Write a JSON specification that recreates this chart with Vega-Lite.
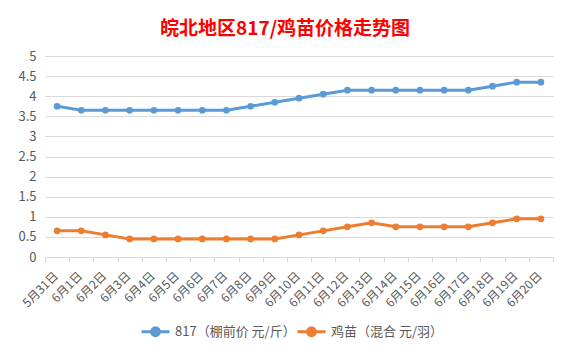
{
  "$schema": "https://vega.github.io/schema/vega-lite/v6.json",
  "autosize": {"type": "none"},
  "width": 508,
  "height": 201,
  "padding": {"left": 45, "top": 56, "right": 17, "bottom": 99},
  "background": "white",
  "title": {
    "text": "皖北地区817/鸡苗价格走势图",
    "color": "#ff0000",
    "fontSize": 19,
    "fontWeight": "bold",
    "font": "Noto Sans CJK SC",
    "anchor": "middle",
    "baseline": "bottom",
    "offset": 21,
    "dx": -14,
    "dy": 29
  },
  "config": {
    "view": {"stroke": null},
    "font": "Noto Sans CJK SC"
  },
  "data": {
    "values": [
      {"date": "5月31日", "series": "817（棚前价 元/斤）", "price": 3.75},
      {"date": "6月1日", "series": "817（棚前价 元/斤）", "price": 3.65},
      {"date": "6月2日", "series": "817（棚前价 元/斤）", "price": 3.65},
      {"date": "6月3日", "series": "817（棚前价 元/斤）", "price": 3.65},
      {"date": "6月4日", "series": "817（棚前价 元/斤）", "price": 3.65},
      {"date": "6月5日", "series": "817（棚前价 元/斤）", "price": 3.65},
      {"date": "6月6日", "series": "817（棚前价 元/斤）", "price": 3.65},
      {"date": "6月7日", "series": "817（棚前价 元/斤）", "price": 3.65},
      {"date": "6月8日", "series": "817（棚前价 元/斤）", "price": 3.75},
      {"date": "6月9日", "series": "817（棚前价 元/斤）", "price": 3.85},
      {"date": "6月10日", "series": "817（棚前价 元/斤）", "price": 3.95},
      {"date": "6月11日", "series": "817（棚前价 元/斤）", "price": 4.05},
      {"date": "6月12日", "series": "817（棚前价 元/斤）", "price": 4.15},
      {"date": "6月13日", "series": "817（棚前价 元/斤）", "price": 4.15},
      {"date": "6月14日", "series": "817（棚前价 元/斤）", "price": 4.15},
      {"date": "6月15日", "series": "817（棚前价 元/斤）", "price": 4.15},
      {"date": "6月16日", "series": "817（棚前价 元/斤）", "price": 4.15},
      {"date": "6月17日", "series": "817（棚前价 元/斤）", "price": 4.15},
      {"date": "6月18日", "series": "817（棚前价 元/斤）", "price": 4.25},
      {"date": "6月19日", "series": "817（棚前价 元/斤）", "price": 4.35},
      {"date": "6月20日", "series": "817（棚前价 元/斤）", "price": 4.35},
      {"date": "5月31日", "series": "鸡苗（混合 元/羽）", "price": 0.65},
      {"date": "6月1日", "series": "鸡苗（混合 元/羽）", "price": 0.65},
      {"date": "6月2日", "series": "鸡苗（混合 元/羽）", "price": 0.55},
      {"date": "6月3日", "series": "鸡苗（混合 元/羽）", "price": 0.45},
      {"date": "6月4日", "series": "鸡苗（混合 元/羽）", "price": 0.45},
      {"date": "6月5日", "series": "鸡苗（混合 元/羽）", "price": 0.45},
      {"date": "6月6日", "series": "鸡苗（混合 元/羽）", "price": 0.45},
      {"date": "6月7日", "series": "鸡苗（混合 元/羽）", "price": 0.45},
      {"date": "6月8日", "series": "鸡苗（混合 元/羽）", "price": 0.45},
      {"date": "6月9日", "series": "鸡苗（混合 元/羽）", "price": 0.45},
      {"date": "6月10日", "series": "鸡苗（混合 元/羽）", "price": 0.55},
      {"date": "6月11日", "series": "鸡苗（混合 元/羽）", "price": 0.65},
      {"date": "6月12日", "series": "鸡苗（混合 元/羽）", "price": 0.75},
      {"date": "6月13日", "series": "鸡苗（混合 元/羽）", "price": 0.85},
      {"date": "6月14日", "series": "鸡苗（混合 元/羽）", "price": 0.75},
      {"date": "6月15日", "series": "鸡苗（混合 元/羽）", "price": 0.75},
      {"date": "6月16日", "series": "鸡苗（混合 元/羽）", "price": 0.75},
      {"date": "6月17日", "series": "鸡苗（混合 元/羽）", "price": 0.75},
      {"date": "6月18日", "series": "鸡苗（混合 元/羽）", "price": 0.85},
      {"date": "6月19日", "series": "鸡苗（混合 元/羽）", "price": 0.95},
      {"date": "6月20日", "series": "鸡苗（混合 元/羽）", "price": 0.95}
    ]
  },
  "mark": {
    "type": "line",
    "strokeWidth": 3,
    "point": {"filled": true, "size": 45, "opacity": 1}
  },
  "encoding": {
    "x": {
      "field": "date",
      "type": "ordinal",
      "sort": null,
      "scale": {"type": "band", "paddingInner": 0, "paddingOuter": 0},
      "axis": {
        "title": null,
        "labelAngle": -45,
        "labelFontSize": 12,
        "labelColor": "#595959",
        "labelPadding": 8,
        "labelOffset": -5,
        "tickBand": "extent",
        "tickColor": "#d9d9d9",
        "tickSize": 5,
        "domainColor": "#d9d9d9",
        "grid": false
      }
    },
    "y": {
      "field": "price",
      "type": "quantitative",
      "scale": {"domain": [0, 5]},
      "axis": {
        "title": null,
        "values": [0, 0.5, 1, 1.5, 2, 2.5, 3, 3.5, 4, 4.5, 5],
        "format": "~g",
        "labelFontSize": 13,
        "labelColor": "#595959",
        "labelPadding": 9,
        "domain": false,
        "ticks": false,
        "gridColor": "#d9d9d9",
        "gridWidth": 1
      }
    },
    "color": {
      "field": "series",
      "type": "nominal",
      "sort": null,
      "scale": {"range": ["#5b9bd5", "#ed7d31"]},
      "legend": {
        "title": null,
        "orient": "none",
        "direction": "horizontal",
        "legendX": 95,
        "legendY": 260,
        "labelFontSize": 13,
        "labelColor": "#595959",
        "symbolType": "M-1,0H1M-0.28,0A0.28,0.28,0,1,0,0.28,0A0.28,0.28,0,1,0,-0.28,0Z",
        "symbolSize": 784,
        "symbolStrokeWidth": 3,
        "labelOffset": 4,
        "columnPadding": -19,
        "encode": {
          "symbols": {"update": {"fill": {"scale": "color", "field": "value"}, "fillOpacity": {"value": 1}}}
        }
      }
    }
  }
}
